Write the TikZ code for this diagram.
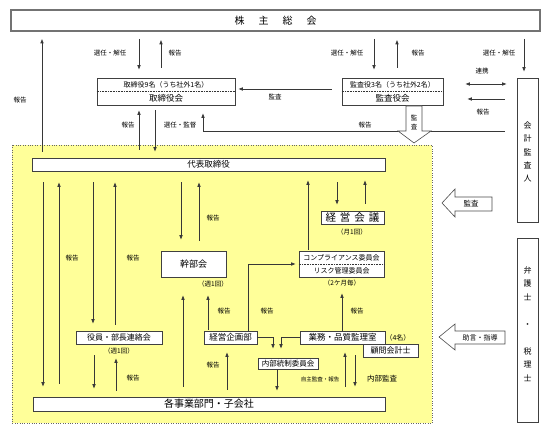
\documentclass[tikz,border=0pt]{standalone}
\usepackage{fontspec}
\setmainfont{Noto Sans CJK JP}
\usetikzlibrary{arrows.meta,shadows}
\definecolor{bgyellow}{RGB}{255,255,153}
\definecolor{lnc}{RGB}{55,55,55}
\newcommand{\jfs}[1]{\fontsize{#1}{#1}\selectfont}

\begin{document}
\begin{tikzpicture}[x=1pt,y=-1pt,
  >={Latex[length=4.5pt,width=3.6pt]},
  box/.style={draw=black!75,fill=white,line width=0.6pt,inner sep=0pt,
    drop shadow={shadow xshift=0.7pt,shadow yshift=-0.7pt,fill=black!60,opacity=1}},
  txt/.style={inner sep=0pt,font=\jfs{#1}},
  lbl/.style={inner sep=0pt,font=\jfs{6.5}},
  vt/.style={inner sep=0pt,align=center,font=\fontsize{#1}{#1}\selectfont},
  divider/.style={densely dotted,line width=0.6pt,draw=black!80},
  arr/.style={draw=lnc,line width=0.6pt,->},
  blk/.style={draw=black!70,fill=white,line width=0.6pt}]
\useasboundingbox (0,0) rectangle (550,435);

% yellow area
\draw[draw=black!60,dotted,fill=bgyellow] (12,145) rectangle (432,423);

% top boxes
\node[draw=black!55,fill=white,line width=1.6pt,inner sep=0pt,minimum width=529pt,minimum height=21pt,font=\jfs{10}] (kabunushi) at (275.5,20.5) {株\hspace{14pt}主\hspace{14pt}総\hspace{14pt}会};

\node[box,minimum width=138pt,minimum height=27pt] (torishimari) at (166,91.5) {};
\draw[divider] (torishimari.west) -- (torishimari.east);
\node[txt=7] (torishimariA) at (166,84.5) {取締役9名（うち社外1名）};
\node[txt=8.5] (torishimariB) at (166,98) {取締役会};

\node[box,minimum width=101pt,minimum height=27pt] (kansayaku) at (392.5,91.5) {};
\draw[divider] (kansayaku.west) -- (kansayaku.east);
\node[txt=7] (kansayakuA) at (392.5,84.5) {監査役3名（うち社外2名）};
\node[txt=8.5] (kansayakuB) at (392.5,98) {監査役会};

\node[box,minimum width=21pt,minimum height=144pt] (kaikei) at (527.5,150) {};
\node[vt=8,font=\fontsize{8}{13.2}\selectfont] (kaikeiT) at (527.5,152) {会\\計\\監\\査\\人};

\node[box,minimum width=21pt,minimum height=184pt] (bengoshi) at (527.5,330) {};
\node[vt=8,font=\fontsize{8}{13.5}\selectfont] (bengoshiT) at (527.5,324) {弁\\護\\士\\\mbox{}\\・\\\mbox{}\\税\\理\\士};

% boxes in the yellow area
\node[box,minimum width=353pt,minimum height=13pt,font=\jfs{8.5}] (daihyo) at (208.5,164.5) {代表取締役};
\node[box,minimum width=63pt,minimum height=13pt,font=\jfs{10.5}] (keiei) at (352.5,217.5) {経\hspace{4pt}営\hspace{4pt}会\hspace{4pt}議};
\node[box,minimum width=65pt,minimum height=26pt,font=\jfs{9}] (kanbu) at (193.5,264) {幹部会};
\node[box,minimum width=85pt,minimum height=26pt] (comp) at (341.5,264) {};
\draw[divider] (comp.west) -- (comp.east);
\node[txt=7] (compA) at (341.5,257.5) {コンプライアンス委員会};
\node[txt=7] (compB) at (341.5,270.5) {リスク管理委員会};
\node[box,minimum width=86pt,minimum height=13pt,font=\jfs{8}] (yakuin) at (119,337.5) {役員・部長連絡会};
\node[box,minimum width=53pt,minimum height=13pt,font=\jfs{8.5}] (kikaku) at (230.5,337.5) {経営企画部};
\node[box,minimum width=85pt,minimum height=13pt,font=\jfs{8.5}] (gyomu) at (342.5,337.5) {業務・品質監理室};
\node[box,minimum width=55pt,minimum height=13pt,font=\jfs{8}] (komon) at (390.5,350.5) {顧問会計士};
\node[box,minimum width=60pt,minimum height=11pt,font=\jfs{7.5}] (naibu) at (288,363.5) {内部統制委員会};
\node[box,minimum width=352pt,minimum height=14pt,font=\jfs{10}] (jigyo) at (209,404) {各事業部門・子会社};

% notes
\node[lbl] (yakuinN) at (119,351) {（週1回）};
\node[lbl] (kanbuN) at (213,284.5) {（週1回）};
\node[lbl] (keieiN) at (352,232) {（月1回）};
\node[lbl] (compN) at (342,283) {（2ケ月毎）};
\node[txt=7] (gyomuN) at (398,338) {（4名）};

% shareholders meeting
\draw[arr,shorten <=6pt,shorten >=7pt] (42,0 |- daihyo.north) -- (42,0 |- kabunushi.south);
\node[lbl] (lb1) at (20,100) {報告};
\draw[arr,shorten <=7pt,shorten >=8pt] (139,0 |- kabunushi.south) -- (139,0 |- torishimari.north);
\node[lbl] (lb2) at (110,53) {選任・解任};
\draw[arr,shorten <=10pt,shorten >=8pt] (161,0 |- torishimari.north) -- (161,0 |- kabunushi.south);
\node[lbl] (lb3) at (175,53) {報告};
\draw[arr,shorten <=7pt,shorten >=8pt] (374,0 |- kabunushi.south) -- (374,0 |- kansayaku.north);
\node[lbl] (lb4) at (347,53) {選任・解任};
\draw[arr,shorten <=10pt,shorten >=8pt] (397,0 |- kansayaku.north) -- (397,0 |- kabunushi.south);
\node[lbl] (lb5) at (418,53) {報告};
\draw[arr,shorten <=7pt,shorten >=6pt] (524,0 |- kabunushi.south) -- (524,0 |- kaikei.north);
\node[lbl] (lb6) at (499,53) {選任・解任};

% auditors
\draw[arr,<->,shorten <=22pt,shorten >=10pt] (kansayaku.east |- 0,84) -- (kaikei.west |- 0,84);
\node[lbl] (lb7) at (482,71) {連携};
\draw[arr,shorten <=12pt,shorten >=24pt] (kaikei.west |- 0,99) -- (kansayaku.east |- 0,99);
\node[lbl] (lb8) at (483,112) {報告};
\draw[arr,shorten <=10pt,shorten >=3pt] (kansayaku.west |- 0,89) -- (torishimari.east |- 0,89);
\node[lbl] (lb9) at (275,97) {監査};
\draw[arr,shorten <=12pt,shorten >=8pt] (kaikei.west |- 0,131) -| (203,0 |- torishimari.south);
\node[lbl] (lb10) at (365,125) {報告};
\draw[arr,shorten <=8pt,shorten >=5pt] (139,0 |- daihyo.north) -- (139,0 |- torishimari.south);
\node[lbl] (lb11) at (128,125) {報告};
\draw[arr,shorten <=5pt,shorten >=6pt] (155,0 |- torishimari.south) -- (155,0 |- daihyo.north);
\node[lbl] (lb12) at (180,125) {選任・監督};

% block arrows
\draw[blk] (406,106) -- (422,106) -- (422,131) -- (431,131) -- (414,143) -- (398,131) -- (406,131) -- cycle;
\node[vt=6.5,font=\fontsize{6.5}{9}\selectfont] (lb13) at (414,122) {監\\査};
\draw[blk] (492,197) -- (455,197) -- (455,189) -- (442,203) -- (455,217) -- (455,211) -- (492,211) -- cycle;
\node[txt=7.5] (lb14) at (471,204) {監査};
\draw[blk] (505,331) -- (455,331) -- (455,324) -- (439,337) -- (455,350) -- (455,344) -- (505,344) -- cycle;
\node[txt=7] (lb15) at (480,338) {助言・指導};

% representative director and departments
\draw[arr,shorten <=11pt,shorten >=10pt] (43,0 |- daihyo.south) -- (43,0 |- jigyo.north);
\draw[arr,shorten <=13pt,shorten >=11pt] (59,0 |- jigyo.north) -- (59,0 |- daihyo.south);
\node[lbl] (lb16) at (72,258) {報告};
\draw[arr,shorten <=11pt,shorten >=7pt] (93,0 |- daihyo.south) -- (93,0 |- yakuin.north);
\draw[arr,shorten <=6pt,shorten >=11pt] (115,0 |- yakuin.north) -- (115,0 |- daihyo.south);
\node[lbl] (lb17) at (133,258) {報告};
\draw[arr,shorten <=11pt,shorten >=8pt] (94,0 |- yakuin.south) -- (94,0 |- jigyo.north);
\draw[arr,shorten <=6pt,shorten >=14pt] (116,0 |- jigyo.north) -- (116,0 |- yakuin.south);
\node[lbl] (lb18) at (133,378) {報告};
\draw[arr,shorten <=11pt,shorten >=11pt] (181,0 |- daihyo.south) -- (181,0 |- kanbu.north);
\draw[arr,shorten <=10pt,shorten >=11pt] (199,0 |- kanbu.north) -- (199,0 |- daihyo.south);
\node[lbl] (lb19) at (213,218) {報告};
\draw[arr,shorten <=10pt,shorten >=18pt] (183,0 |- jigyo.north) -- (183,0 |- kanbu.south);
\draw[arr,shorten <=1pt,shorten >=18pt] (208,0 |- kikaku.north) -- (208,0 |- kanbu.south);
\node[lbl] (lb20) at (224,311) {報告};
\draw[arr,shorten >=3pt] (248,0 |- kikaku.north) |- (comp.west);
\node[lbl] (lb21) at (267,311) {報告};
\draw[arr,shorten <=7pt,shorten >=8pt] (227,0 |- jigyo.north) -- (227,0 |- kikaku.south);
\node[lbl] (lb22) at (213,365) {報告};
\draw[arr,shorten >=9pt] (kikaku.east) -| (273,0 |- naibu.north);
\draw[arr,shorten >=9pt] (gyomu.west) -| (281,0 |- naibu.north);
\draw[arr,shorten >=6pt] (277,0 |- naibu.south) -- (277,0 |- jigyo.north);
\draw[arr,shorten <=10pt,shorten >=8pt] (345,0 |- jigyo.north) -- (345,0 |- gyomu.south);
\draw[arr,shorten <=11pt,shorten >=10pt] (355,0 |- gyomu.south) -- (355,0 |- jigyo.north);
\node[txt=5.5] (lb23) at (320,379) {自主監査・報告};
\node[txt=7.5] (lb24) at (382,379) {内部監査};
\draw[arr,shorten >=16pt] (342,0 |- gyomu.north) -- (342,0 |- comp.south);
\node[lbl] (lb25) at (357,311) {報告};
\draw[arr,shorten <=1pt,shorten >=9pt] (308,0 |- comp.north) -- (308,0 |- daihyo.south);
\draw[arr,shorten <=11pt,shorten >=6pt] (337,0 |- daihyo.south) -- (337,0 |- keiei.north);
\draw[arr,shorten <=7pt,shorten >=9pt] (365,0 |- keiei.north) -- (365,0 |- daihyo.south);

\end{tikzpicture}
\end{document}
